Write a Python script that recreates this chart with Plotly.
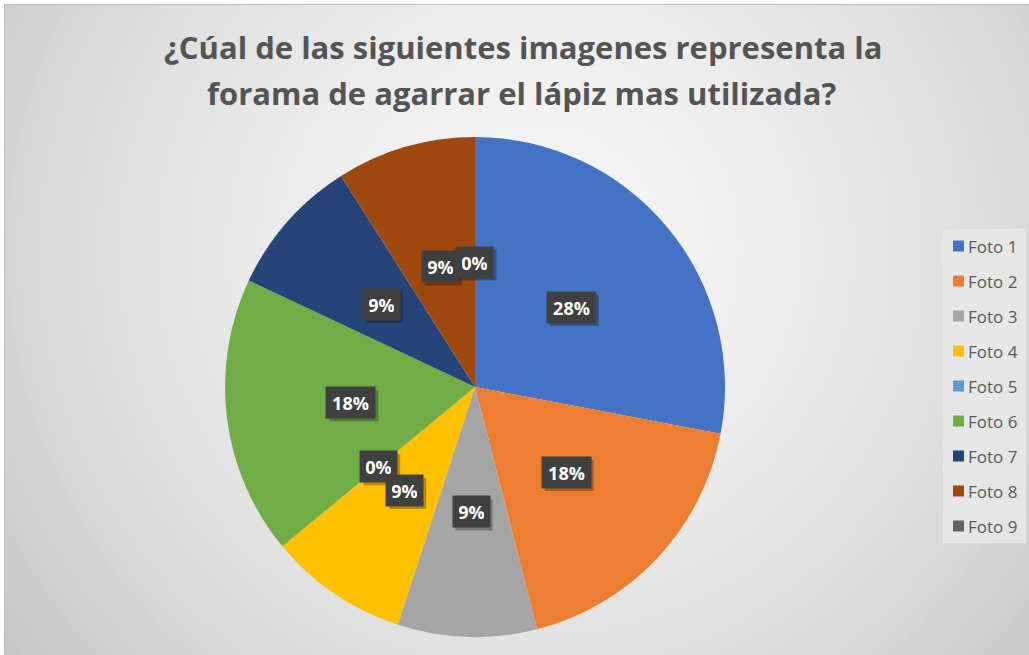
import math
import plotly.graph_objects as go

# Survey answers: share of each photo (percent)
categories = ["Foto 1", "Foto 2", "Foto 3", "Foto 4", "Foto 5",
              "Foto 6", "Foto 7", "Foto 8", "Foto 9"]
values = [28, 18, 9, 9, 0, 18, 9, 9, 0]
colors = ["#4472C4", "#ED7D31", "#A5A5A5", "#FFC000", "#5B9BD5",
          "#70AD47", "#264478", "#9E480E", "#636363"]
title_lines = ["¿Cúal de las siguientes imagenes representa la",
               "forama de agarrar el lápiz mas utilizada?"]

W, H = 1029, 655
CX, CY, R = 475, 387, 250   # pie centre and radius in pixels
FONT = "Open Sans"
TEXT_GREY = "#595959"


def px(x):
    return x / W


def py(y):
    return 1 - y / H


fig = go.Figure()
fig.add_trace(go.Pie(
    labels=categories,
    values=values,
    marker=dict(colors=colors, line=dict(width=0)),
    sort=False,
    direction="clockwise",
    rotation=0,
    textinfo="none",
    hoverinfo="label+percent",
    showlegend=False,
    domain=dict(x=[px(CX - R), px(CX + R)], y=[py(CY + R), py(CY - R)]),
))

shapes = []

# Soft radial grey background
GX, GY = 540, 250
dmax = 680.0
steps = 60
for i in range(steps, 0, -1):
    d = dmax * i / steps
    t = d / 662.0
    c = int(round(246 - 46 * min(t, 1.05) ** 1.6))
    c = max(0, min(255, c))
    shapes.append(dict(
        type="circle", xref="paper", yref="paper", layer="below",
        x0=px(GX - d), x1=px(GX + d), y0=py(GY + d), y1=py(GY - d),
        fillcolor=f"rgb({c},{c},{c})", line=dict(width=0),
    ))

# White margin on top and left, with the chart-area border
shapes.append(dict(type="rect", xref="paper", yref="paper", layer="below",
                   x0=-0.01, x1=1.01, y0=py(4), y1=1.01,
                   fillcolor="white", line=dict(width=0)))
shapes.append(dict(type="rect", xref="paper", yref="paper", layer="below",
                   x0=-0.01, x1=px(4), y0=-0.01, y1=1.01,
                   fillcolor="white", line=dict(width=0)))
shapes.append(dict(type="line", xref="paper", yref="paper", layer="below",
                   x0=px(4.5), x1=1.01, y0=py(4.5), y1=py(4.5),
                   line=dict(color="#bcbcbc", width=1)))
shapes.append(dict(type="line", xref="paper", yref="paper", layer="below",
                   x0=px(4.5), x1=px(4.5), y0=py(4.5), y1=-0.01,
                   line=dict(color="#bcbcbc", width=1)))

# Legend box
LEG_X0, LEG_X1, LEG_Y0, LEG_Y1 = 943, 1026, 229, 543
shapes.append(dict(type="rect", xref="paper", yref="paper", layer="below",
                   x0=px(LEG_X0), x1=px(LEG_X1), y0=py(LEG_Y1), y1=py(LEG_Y0),
                   fillcolor="rgba(232,232,232,0.9)", line=dict(width=0)))

annotations = []
ITEM_Y0, ITEM_STEP = 246, 35
for i, (name, col) in enumerate(zip(categories, colors)):
    yc = ITEM_Y0 + i * ITEM_STEP
    shapes.append(dict(type="rect", xref="paper", yref="paper", layer="below",
                       x0=px(953), x1=px(964), y0=py(yc + 5.5), y1=py(yc - 5.5),
                       fillcolor=col, line=dict(width=0)))
    annotations.append(dict(
        x=px(966), y=py(yc), xref="paper", yref="paper",
        xanchor="left", yanchor="middle", text=name, showarrow=False,
        font=dict(family=FONT, size=17, color=TEXT_GREY),
    ))

# Title
for text, (tx, ty) in zip(title_lines, [(523, 47), (521, 93)]):
    annotations.append(dict(
        x=px(tx), y=py(ty), xref="paper", yref="paper",
        xanchor="center", yanchor="middle", text=f"<b>{text}</b>",
        showarrow=False,
        font=dict(family=FONT, size=31, color="#545454"),
    ))

# Percentage labels placed along each slice's mid-angle, with a drop shadow
total = sum(values)
cum = 0
LABEL_R = 0.5 * R
BOX_H = 31
for v in values:
    theta = 2 * math.pi * (cum + v / 2) / total
    lx = CX + LABEL_R * math.sin(theta)
    ly = CY - LABEL_R * math.cos(theta)
    cum += v
    txt = f"{v}%"
    text_w = 37 if len(txt) > 2 else 25
    box_w = text_w + 12
    sx, sy = lx + 3, ly + 3
    shapes.append(dict(type="rect", xref="paper", yref="paper", layer="above",
                       x0=px(sx - box_w / 2), x1=px(sx + box_w / 2),
                       y0=py(sy + BOX_H / 2), y1=py(sy - BOX_H / 2),
                       fillcolor="rgba(0,0,0,0.28)", line=dict(width=0)))
    annotations.append(dict(
        x=px(lx), y=py(ly), xref="paper", yref="paper",
        xanchor="center", yanchor="middle", text=f"<b>{txt}</b>",
        showarrow=False, borderpad=6, width=text_w, height=BOX_H - 12,
        bgcolor="#404040",
        font=dict(family=FONT, size=18, color="white"),
    ))

fig.update_layout(
    width=W, height=H,
    margin=dict(l=0, r=0, t=0, b=0),
    paper_bgcolor="white",
    plot_bgcolor="white",
    shapes=shapes,
    annotations=annotations,
    showlegend=False,
)

fig.write_html("out.html")
